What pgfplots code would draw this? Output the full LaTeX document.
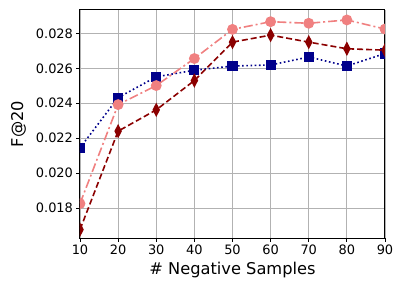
\documentclass[border=0pt]{standalone}
\usepackage{fontspec}
\setmainfont{DejaVu Sans}
\usepackage{pgfplots}
\pgfplotsset{compat=1.18}
\definecolor{navyb}{HTML}{00008B}
\definecolor{lcoral}{HTML}{F08080}
\definecolor{dred}{HTML}{8B0000}
\begin{document}
\begin{tikzpicture}
\begin{axis}[
  name=ax,
  scale only axis,
  width=305bp, height=228bp,
  xmin=10, xmax=90,
  ymin=0.01628, ymax=0.02934,
  xtick={10,20,...,90},
  ytick={0.018,0.020,0.022,0.024,0.026,0.028},
  /pgf/number format/assume math mode=true,
  yticklabel style={/pgf/number format/.cd,fixed,fixed zerofill,precision=3},
  scaled y ticks=false,
  tick label style={font=\fontsize{13}{15}\selectfont},
  xlabel={\# Negative Samples},
  ylabel={F@20},
  grid=major,
  major grid style={color=black!30, line width=0.9bp},
  tick align=outside,
  tick pos=left,
  major tick length=3.5bp,
  tick style={black, line width=0.8bp},
  axis line style={line width=1bp},
  every axis x label/.style={at={(ticklabel cs:0.5)}, anchor=north, yshift=-1bp, font=\fontsize{16.3}{19}\selectfont},
  every axis y label/.style={at={(ticklabel cs:0.5)}, anchor=south, rotate=90, yshift=3bp, font=\fontsize{16.3}{19}\selectfont},
  clip marker paths=true,
]
\addplot[color=navyb, line width=1.6bp, dash pattern=on 1.6bp off 2.6bp, mark=square*, mark size=4.3bp, mark options={solid}]
coordinates {(10,0.02144) (20,0.02432) (30,0.02551) (40,0.02589) (50,0.02613) (60,0.02619) (70,0.02665) (80,0.02613) (90,0.02685)};
\addplot[color=lcoral, line width=1.6bp, dash pattern=on 9bp off 3bp on 2bp off 3bp, mark=*, mark size=4.6bp, mark options={solid}]
coordinates {(10,0.01825) (20,0.02392) (30,0.02501) (40,0.02656) (50,0.02823) (60,0.02867) (70,0.02858) (80,0.02877) (90,0.02825)};
\addplot[color=dred, line width=1.6bp, dash pattern=on 6bp off 3bp, mark=diamond*, mark size=5.5bp, mark options={solid, xscale=0.7}]
coordinates {(10,0.01676) (20,0.0224) (30,0.02362) (40,0.0253) (50,0.0275) (60,0.0279) (70,0.0275) (80,0.02712) (90,0.02704)};
\end{axis}
\path ([xshift=-80bp,yshift=-54bp]ax.south west) rectangle ([xshift=19bp,yshift=10bp]ax.north east);
\end{tikzpicture}
\end{document}
